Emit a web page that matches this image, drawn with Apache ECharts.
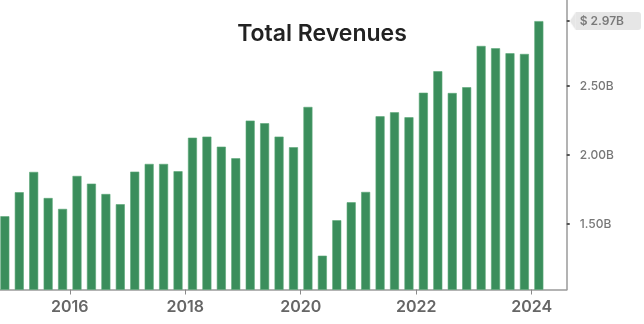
<!DOCTYPE html>
<html>
<head>
<meta charset="utf-8">
<script src="https://cdn.jsdelivr.net/npm/echarts@6/dist/echarts.min.js"></script>
<style>
html,body{margin:0;padding:0;background:#fff;}
#chart{width:644px;height:324px;}
</style>
</head>
<body>
<div id="chart"></div>
<script>
// Quarter labels (year, quarter) and total revenues in billions USD
const quarters = [
  '2014Q4',
  '2015Q1','2015Q2','2015Q3','2015Q4',
  '2016Q1','2016Q2','2016Q3','2016Q4',
  '2017Q1','2017Q2','2017Q3','2017Q4',
  '2018Q1','2018Q2','2018Q3','2018Q4',
  '2019Q1','2019Q2','2019Q3','2019Q4',
  '2020Q1','2020Q2','2020Q3','2020Q4',
  '2021Q1','2021Q2','2021Q3','2021Q4',
  '2022Q1','2022Q2','2022Q3','2022Q4',
  '2023Q1','2023Q2','2023Q3','2023Q4',
  '2024Q1'
];
const revenues = [
  1.556,
  1.730, 1.877, 1.688, 1.609,
  1.848, 1.792, 1.717, 1.643,
  1.879, 1.935, 1.935, 1.882,
  2.125, 2.133, 2.060, 1.976,
  2.249, 2.230, 2.133, 2.056,
  2.348, 1.270, 1.527, 1.657,
  1.732, 2.280, 2.309, 2.273,
  2.451, 2.607, 2.449, 2.491,
  2.790, 2.773, 2.737, 2.732,
  2.970
];
const yearTicks = [2016, 2018, 2020, 2022, 2024];
const valueTicks = [1.5, 2.0, 2.5];
const latestValue = 2.97;
const titleText = 'Total Revenues';

function quarterToX(q) {
  const y = parseInt(q.slice(0, 4), 10);
  const n = parseInt(q.slice(5), 10);
  return y + (n - 0.5) / 4;
}
const seriesData = quarters.map((q, i) => [quarterToX(q), revenues[i]]);

// small left-pointing arrow image for the latest-value tag
function arrowImage() {
  const c = document.createElement('canvas');
  c.width = 6; c.height = 18;
  const ctx = c.getContext('2d');
  ctx.fillStyle = '#e6e6e6';
  ctx.beginPath();
  ctx.moveTo(0, 9); ctx.lineTo(6, 0); ctx.lineTo(6, 18); ctx.closePath();
  ctx.fill();
  return c;
}

const chart = echarts.init(document.getElementById('chart'), null, {renderer: 'canvas'});
chart.setOption({
  animation: false,
  backgroundColor: '#ffffff',
  title: {
    text: titleText,
    left: 'center',
    top: 18,
    textStyle: {
      fontFamily: 'Inter',
      fontWeight: 600,
      fontSize: 23,
      color: '#222222'
    }
  },
  grid: {left: 0, right: 74, top: 0, bottom: 34.5, containLabel: false},
  xAxis: {
    type: 'value',
    min: 2014.791,
    max: 2024.608,
    splitLine: {show: false},
    axisLine: {show: true, lineStyle: {color: '#9a9a9a', width: 1.5}},
    axisTick: {show: true, customValues: yearTicks, length: 5, lineStyle: {color: '#8a8a8a'}},
    axisLabel: {
      customValues: yearTicks,
      formatter: v => String(v),
      margin: 10,
      fontFamily: 'Inter',
      fontWeight: 600,
      fontSize: 16,
      color: '#666666'
    }
  },
  yAxis: {
    type: 'value',
    position: 'right',
    min: 1.025,
    max: 3.123,
    splitLine: {show: false},
    axisLine: {show: true, lineStyle: {color: '#9a9a9a', width: 1.5}},
    axisTick: {show: true, customValues: valueTicks.concat([latestValue]), length: 3, lineStyle: {color: '#555555', width: 2}},
    axisLabel: {
      customValues: valueTicks.concat([latestValue]),
      margin: 3,
      formatter: v => {
        if (Math.abs(v - latestValue) < 1e-6) return '{a|}{t|$ ' + v.toFixed(2) + 'B}';
        return '{n|' + v.toFixed(2) + 'B}';
      },
      rich: {
        n: {
          fontFamily: 'Inter', fontWeight: 500, fontSize: 12, color: '#777777',
          padding: [0, 0, 0, 10]
        },
        a: {
          width: 6, height: 18,
          backgroundColor: {image: arrowImage()}
        },
        t: {
          fontFamily: 'Inter', fontWeight: 600, fontSize: 12, color: '#7a7a7a',
          backgroundColor: '#e6e6e6', borderRadius: [0, 3, 3, 0],
          height: 18, lineHeight: 18,
          padding: [0, 17, 0, 4]
        }
      }
    }
  },
  series: [{
    type: 'bar',
    data: seriesData,
    barWidth: 9,
    itemStyle: {color: '#3b8e5c', borderColor: '#5aa877', borderWidth: 0.6}
  }]
});
</script>
</body>
</html>
